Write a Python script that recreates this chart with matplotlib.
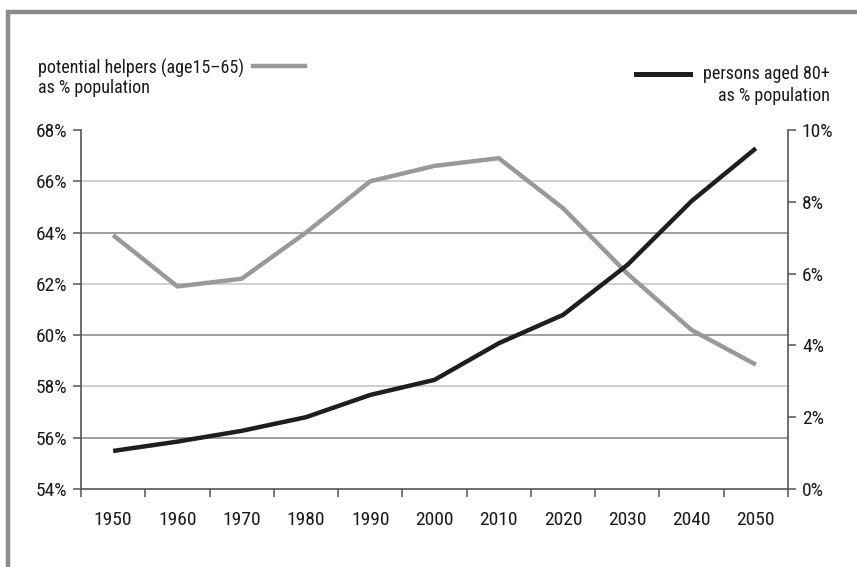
import matplotlib
matplotlib.use("Agg")
import matplotlib.pyplot as plt
from matplotlib.lines import Line2D
from matplotlib.patches import Rectangle

plt.rcParams['font.family'] = ['Roboto Condensed', 'Roboto', 'DejaVu Sans']

years = [1950, 1960, 1970, 1980, 1990, 2000, 2010, 2020, 2030, 2040, 2050]
helpers_pct = [63.9, 61.9, 62.2, 64.0, 66.0, 66.6, 66.9, 64.95, 62.4, 60.2, 58.85]
aged80_pct = [1.06, 1.32, 1.62, 2.0, 2.62, 3.04, 4.06, 4.85, 6.24, 8.02, 9.49]
left_ticks = [54, 56, 58, 60, 62, 64, 66, 68]
right_ticks = [0, 2, 4, 6, 8, 10]

W, H = 857, 567
fig = plt.figure(figsize=(W / 100, H / 100), dpi=100)

# page frame: thick gray rule along the top and left edges
frame = Rectangle((8 / W, -0.1), 1.2, 1.1 - 12 / H, transform=fig.transFigure,
                  fill=False, edgecolor='#8a8a8a', linewidth=3.2, clip_on=False)
fig.add_artist(frame)

ax = fig.add_axes([81 / W, 1 - 489 / H, (788 - 81) / W, (489 - 130) / H])
ax2 = ax.twinx()

n = len(years)
xpos = [i + 0.5 for i in range(n)]

ax.set_xlim(0, n)
ax.set_ylim(54, 68)
ax2.set_ylim(0, 10)

# horizontal grid on the left scale
grid_cols = ['#8e8e8e', '#c8c8c8']
for k, v in enumerate(left_ticks[1:-1]):
    ax.axhline(v, color=grid_cols[k % 2], linewidth=1.2, zorder=0)

ax.plot(xpos, helpers_pct, color='#999999', linewidth=3.2, solid_capstyle='butt', zorder=3)
ax2.plot(xpos, aged80_pct, color='#1e1e1e', linewidth=3.2, solid_capstyle='butt', zorder=3)

for a in (ax, ax2):
    a.spines['top'].set_visible(False)
    for s in ('left', 'right', 'bottom'):
        a.spines[s].set_color('#555555')
        a.spines[s].set_linewidth(1.2)
ax.spines['right'].set_visible(False)
ax2.spines['left'].set_visible(False)
ax2.spines['bottom'].set_visible(False)

lab = 14
ax.set_yticks(left_ticks)
ax.set_yticklabels([f"{v}%" for v in left_ticks])
ax2.set_yticks(right_ticks)
ax2.set_yticklabels([f"{v}%" for v in right_ticks])

ax.set_xticks(range(n + 1))
ax.set_xticklabels([])
ax.set_xticks(xpos, minor=True)
ax.set_xticklabels([str(y) for y in years], minor=True)
ax.tick_params(axis='x', which='major', length=6, width=1.1, color='#555555', direction='out')
ax.tick_params(axis='x', which='minor', length=0, pad=16, labelsize=lab, labelcolor='#1a1a1a')
ax.tick_params(axis='y', length=6, width=1.1, color='#555555', pad=4, labelsize=lab,
               labelcolor='#1a1a1a')
ax2.tick_params(axis='y', length=6, width=1.1, color='#555555', pad=4, labelsize=lab,
                labelcolor='#1a1a1a')

# legend entries placed above the plot area
fs = 13
fig.text(38 / W, 1 - 68 / H, "potential helpers (age15\u201365)", fontsize=fs,
         color='#1a1a1a', ha='left', va='center')
fig.text(38 / W, 1 - 88 / H, "as % population", fontsize=fs,
         color='#1a1a1a', ha='left', va='center')
fig.add_artist(Line2D([253 / W, 305 / W], [1 - 66 / H, 1 - 66 / H], color='#999999',
                      linewidth=3.2, transform=fig.transFigure))

fig.text(830 / W, 1 - 74 / H, "persons aged 80+", fontsize=fs,
         color='#1a1a1a', ha='right', va='center')
fig.text(830 / W, 1 - 96 / H, "as % population", fontsize=fs,
         color='#1a1a1a', ha='right', va='center')
fig.add_artist(Line2D([636 / W, 690 / W], [1 - 74 / H, 1 - 74 / H], color='#1e1e1e',
                      linewidth=3.6, transform=fig.transFigure))

fig.savefig("out.png", dpi=100)
